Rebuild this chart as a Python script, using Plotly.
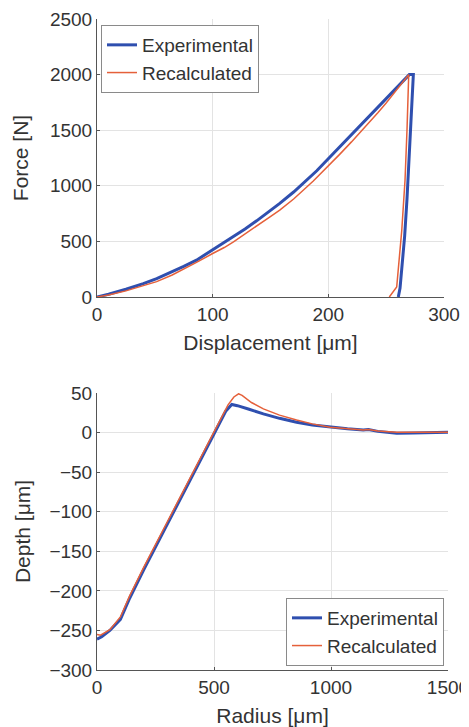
import plotly.graph_objects as go

# ---- Top panel: Force vs Displacement ----
disp_exp = [0, 10, 25, 40, 51.6, 65, 75, 86, 100, 110, 118, 128, 138, 148, 158, 170, 181, 190, 201,
            210, 220, 228, 236, 243, 250, 255, 260, 265, 270, 273.5,
            272.5, 271, 269.5, 268, 266, 264, 262, 260.5]
force_exp = [0, 25, 70, 120, 166, 225, 275, 331, 423, 486, 541, 612, 685, 762, 842, 944, 1045, 1135, 1255,
             1352, 1460, 1547, 1634, 1711, 1788, 1842, 1895, 1947, 2000, 2000,
             1770, 1450, 1150, 880, 550, 280, 80, 0]

disp_rec = [0, 10, 25, 40, 51.6, 65, 75, 86, 100, 110, 118, 128, 138, 148, 158, 170, 187, 201,
            210, 220, 228, 236, 243, 250, 255, 260, 265, 269.5,
            268, 266.3, 263.5, 260.5, 259.1, 252.7]
force_rec = [0, 18, 55, 98, 138, 198, 250, 312, 391, 445, 496, 565, 638, 710, 781, 881, 1043, 1188,
             1285, 1395, 1485, 1577, 1660, 1745, 1808, 1872, 1938, 2000,
             1500, 1050, 600, 250, 90, 0]

# ---- Bottom panel: Depth vs Radius ----
radius_exp = [0, 20, 55, 100, 140, 200, 300, 400, 500, 550, 576, 600, 650, 711, 780, 853, 920, 996,
              1070, 1138, 1160, 1200, 1281, 1350, 1420, 1479, 1500]
depth_exp = [-261, -258, -250, -236, -209, -173, -116, -59, -2, 27, 35.5, 34, 29.5, 23.6, 18, 13, 9.5, 6.7,
             4.8, 3.4, 3.8, 1.5, -0.8, -0.5, 0, 0.4, 0.3]

radius_rec = [0, 15, 55, 100, 140, 200, 300, 400, 500, 560, 585, 605, 620, 660, 711, 780, 853, 920, 996,
              1070, 1138, 1160, 1200, 1281, 1400, 1500]
depth_rec = [-255, -256, -249, -233, -206, -170, -113, -56, 1, 35, 45, 49, 47, 38, 30, 22, 16, 11, 6.7,
             4.5, 3.4, 3.8, 2, 0.4, 0.5, 0.4]

series_names = ["Experimental", "Recalculated"]
BLUE = "#2F4FAF"
RED = "#E5603A"

# page is 469x727, but the html body has an 8px margin -> figure is offset by 8px
OFF = 8
W, H = 469 - OFF, 727 - OFF
FONT = "Liberation Sans, Arial, sans-serif"
TXT = "#333333"

def fx(px):
    return (px - OFF) / W

def fy(py):
    return 1 - (py - OFF) / H

fig = go.Figure()
fig.add_trace(go.Scatter(x=disp_exp, y=force_exp, mode="lines", name=series_names[0],
                         line=dict(color=BLUE, width=3), xaxis="x", yaxis="y"))
fig.add_trace(go.Scatter(x=disp_rec, y=force_rec, mode="lines", name=series_names[1],
                         line=dict(color=RED, width=1.5), xaxis="x", yaxis="y"))
fig.add_trace(go.Scatter(x=radius_exp, y=depth_exp, mode="lines", name=series_names[0],
                         line=dict(color=BLUE, width=3), xaxis="x2", yaxis="y2", legend="legend2"))
fig.add_trace(go.Scatter(x=radius_rec, y=depth_rec, mode="lines", name=series_names[1],
                         line=dict(color=RED, width=1.5), xaxis="x2", yaxis="y2", legend="legend2"))

def ax(**kw):
    base = dict(showgrid=True, gridcolor="#E3E3E3", gridwidth=1, zeroline=False,
                showline=True, linecolor="#555555", linewidth=1, mirror=False,
                ticks="inside", ticklen=3, tickcolor="#555555", automargin=False,
                ticklabeloverflow="allow",
                tickfont=dict(family=FONT, size=19, color=TXT),
                title_font=dict(family=FONT, size=21, color=TXT))
    base.update(kw)
    return base

fig.update_layout(
    width=W, height=H,
    margin=dict(l=0, r=0, t=0, b=0),
    paper_bgcolor="white", plot_bgcolor="white",
    font=dict(family=FONT, color=TXT),
    xaxis=ax(domain=[fx(97), fx(444)], range=[0, 300], dtick=100, anchor="y",
             title=dict(text="Displacement [μm]", standoff=11)),
    yaxis=ax(domain=[fy(297), fy(19)], range=[0, 2500], dtick=500, anchor="x",
             title=dict(text="Force [N]", standoff=15)),
    xaxis2=ax(domain=[fx(97), fx(448)], range=[0, 1500], dtick=500, anchor="y2",
              title=dict(text="Radius [μm]", standoff=11)),
    yaxis2=ax(domain=[fy(670), fy(393)], range=[-300, 50], dtick=50, anchor="x2",
              title=dict(text="Depth [μm]", standoff=13)),
    legend=dict(x=fx(101), y=fy(25), xanchor="left", yanchor="top",
                bgcolor="white", bordercolor="#8A8A8A", borderwidth=1,
                font=dict(family=FONT, size=19, color=TXT), tracegroupgap=0,
                itemwidth=30),
    legend2=dict(x=fx(444), y=fy(666), xanchor="right", yanchor="bottom",
                 bgcolor="white", bordercolor="#8A8A8A", borderwidth=1,
                 font=dict(family=FONT, size=19, color=TXT), tracegroupgap=0,
                 itemwidth=30),
    showlegend=True,
)

fig.write_html("out.html")
